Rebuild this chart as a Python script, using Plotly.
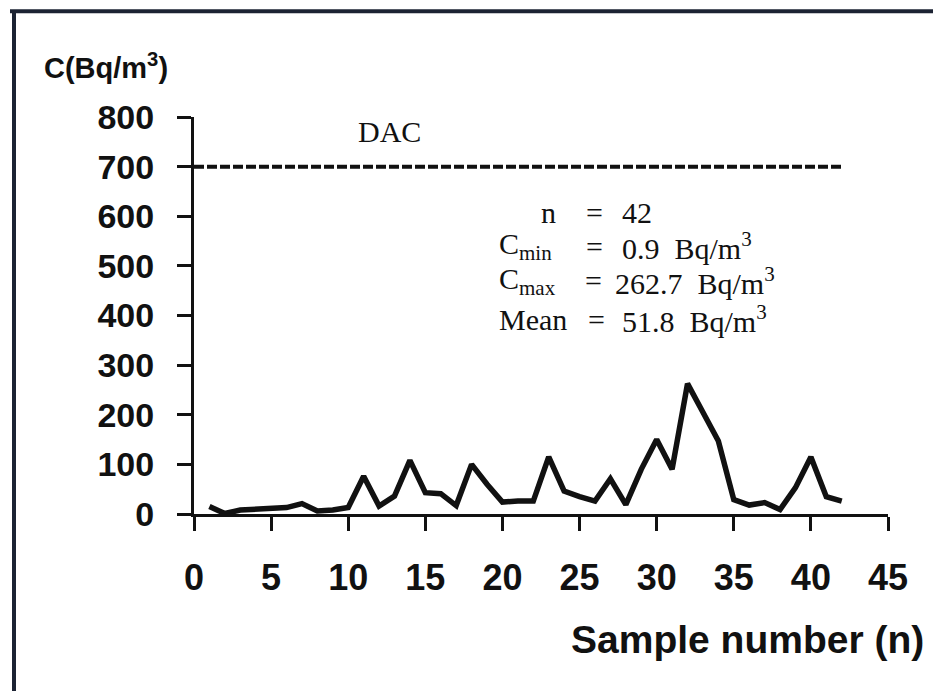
import plotly.graph_objects as go

# ---- data ----
sample_n = list(range(1, 43))
conc = [15, 0.9, 8, 9, 10, 13, 21, 6, 8, 13,
        76, 16, 36, 108, 43, 41, 17, 100, 60, 24,
        26, 26, 115, 46, 35, 26, 71, 19, 90, 150,
        90, 262.7, 205, 147, 29, 18, 23, 9, 53, 115,
        35, 26]
dac_x = [0, 42]
dac_y = [700, 700]
x_ticks = [0, 5, 10, 15, 20, 25, 30, 35, 40, 45]
y_ticks = [0, 100, 200, 300, 400, 500, 600, 700, 800]

stat_labels = ["n", "C<sub>min</sub>", "C<sub>max</sub>", "Mean"]
stat_values = ["42", "0.9  Bq/m<sup>3</sup>", "262.7  Bq/m<sup>3</sup>", "51.8  Bq/m<sup>3</sup>"]

fig = go.Figure()
fig.add_trace(go.Scatter(x=dac_x, y=dac_y, mode="lines",
                         line=dict(color="#111", width=4, dash="10px,3px"),
                         showlegend=False, hoverinfo="skip"))
fig.add_trace(go.Scatter(x=sample_n, y=conc, mode="lines",
                         line=dict(color="#111", width=5.5),
                         showlegend=False))

xtickfont = dict(family="Liberation Sans, Arial", size=36, color="#111", weight="bold")
ytickfont = dict(family="Liberation Sans, Arial", size=34, color="#111", weight="bold")

# the page body adds an 8px offset; margins compensate for it
OFF = 8
fig.update_layout(
    width=941, height=691,
    margin=dict(l=194 - OFF, r=941 - (194 - OFF) - 694, t=117 - OFF,
                b=691 - (117 - OFF) - 397.5),
    paper_bgcolor="white", plot_bgcolor="white",
    xaxis=dict(range=[0, 45], tickvals=x_ticks, ticks="outside", ticklen=14,
               tickwidth=3, tickcolor="#111", showline=True, linewidth=3,
               linecolor="#111", showgrid=False, zeroline=False,
               tickfont=xtickfont, ticklabelstandoff=16),
    yaxis=dict(range=[0, 800], tickvals=y_ticks, ticks="outside", ticklen=14,
               tickwidth=3, tickcolor="#111", showline=True, linewidth=3,
               linecolor="#111", showgrid=False, zeroline=False,
               tickfont=ytickfont, ticklabelstandoff=16),
    xaxis2=dict(range=[0, 45], tickvals=x_ticks, ticks="inside", ticklen=14,
                tickwidth=3, tickcolor="#111", showticklabels=False,
                showline=False, showgrid=False, zeroline=False,
                overlaying="x", anchor="y2"),
    yaxis2=dict(range=[0, 800], tickvals=y_ticks, ticks="inside", ticklen=16,
                tickwidth=3, tickcolor="#111", showticklabels=False,
                showline=False, showgrid=False, zeroline=False,
                overlaying="y", anchor="x2"),
)

annos = []
serif = dict(family="Liberation Serif, Times New Roman", size=30, color="#111")
annos.append(dict(x=12.7, y=770, xref="x", yref="y", text="DAC", showarrow=False,
                  font=serif, xanchor="center", yanchor="middle"))
row_y = [607, 540, 470, 392]
label_x = [22.96, 19.65, 19.65, 19.65]
label_anchor = ["center", "left", "left", "left"]
eq_x = [26.0, 26.0, 25.9, 26.1]
val_x = [27.63, 27.63, 27.17, 27.63]
for i in range(4):
    annos.append(dict(x=label_x[i], y=row_y[i], xref="x", yref="y", text=stat_labels[i],
                      showarrow=False, font=serif, xanchor=label_anchor[i], yanchor="middle"))
    annos.append(dict(x=eq_x[i], y=row_y[i], xref="x", yref="y", text="=",
                      showarrow=False, font=serif, xanchor="center", yanchor="middle"))
    annos.append(dict(x=val_x[i], y=row_y[i], xref="x", yref="y", text=stat_values[i],
                      showarrow=False, font=serif, xanchor="left", yanchor="middle"))

annos.append(dict(x=(106 - 194) / 694, y=(514.5 - 66) / 397.5, xref="paper", yref="paper",
                  text="C(Bq/m<sup>3</sup>)", showarrow=False,
                  font=dict(family="Liberation Sans, Arial", size=29, color="#111", weight="bold"),
                  xanchor="center", yanchor="middle"))
annos.append(dict(x=(926 - 194) / 694, y=(514.5 - 640) / 397.5, xref="paper", yref="paper",
                  text="Sample number (n)", showarrow=False,
                  font=dict(family="Liberation Sans, Arial", size=39, color="#111", weight="bold"),
                  xanchor="right", yanchor="middle"))
fig.update_layout(annotations=annos)

# scan frame
fig.add_shape(type="line", xref="paper", yref="paper",
              x0=(10 - 194) / 694, x1=(941 - 194) / 694,
              y0=(514.5 - 11) / 397.5, y1=(514.5 - 11) / 397.5,
              line=dict(color="#1c2333", width=4))
fig.add_shape(type="line", xref="paper", yref="paper",
              x0=(14 - 194) / 694, x1=(14 - 194) / 694,
              y0=(514.5 - 11) / 397.5, y1=(514.5 - 700) / 397.5,
              line=dict(color="#1c2333", width=4))

fig.write_html("out.html")
